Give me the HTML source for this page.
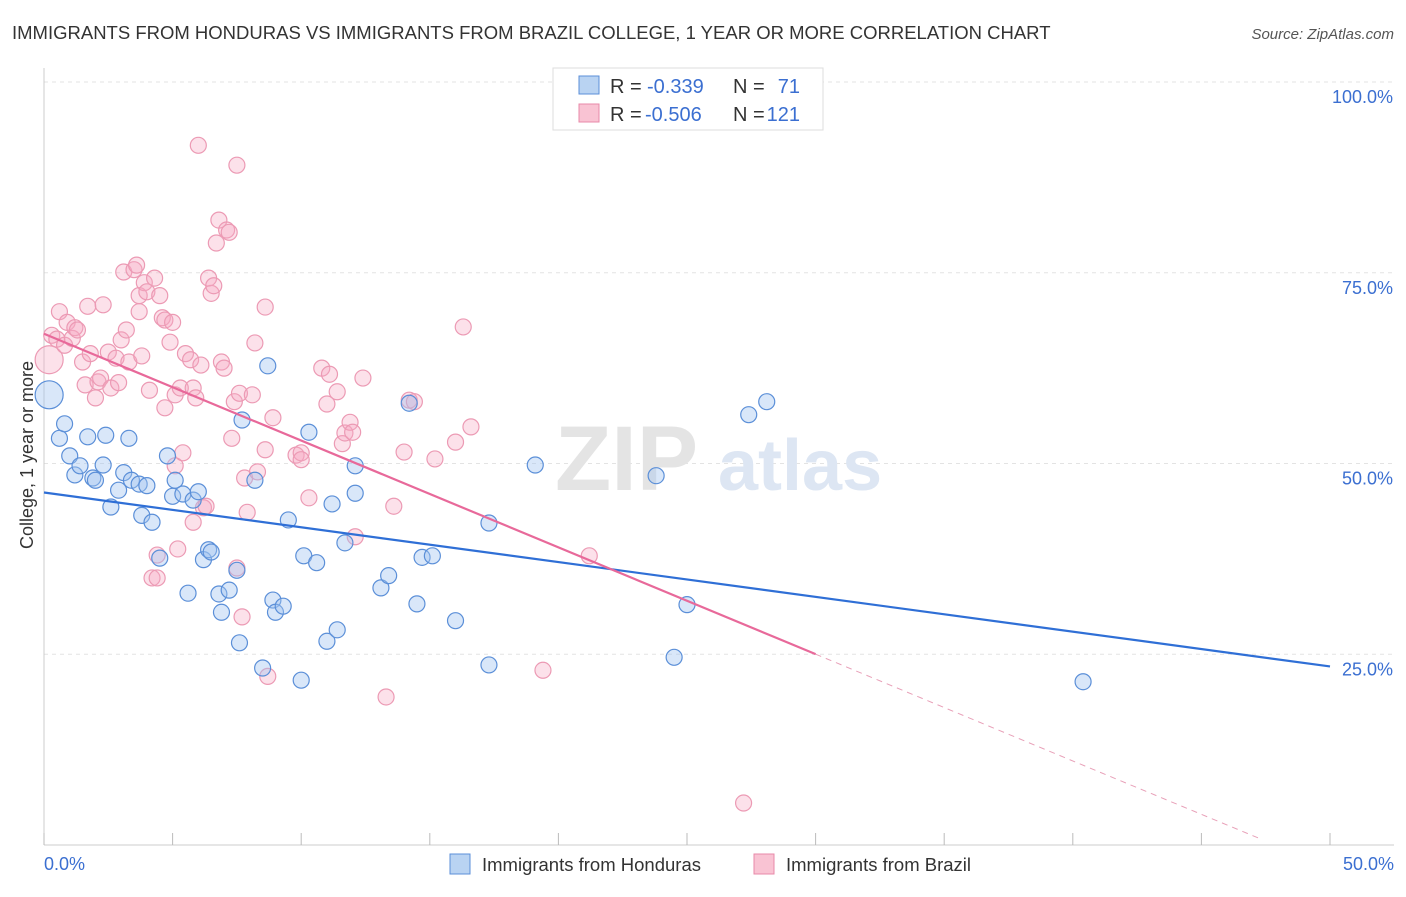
<!DOCTYPE html>
<html><head><meta charset="utf-8"><style>
body{margin:0;background:#fff;font-family:"Liberation Sans",sans-serif}
svg text{font-family:"Liberation Sans",sans-serif}
</style></head><body>
<svg id="chart" width="1406" height="892" xmlns="http://www.w3.org/2000/svg">
<text x="12" y="39" font-size="18.5" fill="#333">IMMIGRANTS FROM HONDURAS VS IMMIGRANTS FROM BRAZIL COLLEGE, 1 YEAR OR MORE CORRELATION CHART</text>
<text x="1394" y="39" font-size="15" fill="#555" text-anchor="end" font-style="italic">Source: ZipAtlas.com</text>
<g id="grid"></g>
<text x="555" y="490" font-size="92" fill="#e4e4e4" font-family="Liberation Serif" font-weight="bold">ZIP</text>
<text x="718" y="490" font-size="72" fill="#dde6f3" font-weight="bold">atlas</text>
<g id="axes"></g>
<g id="pts"></g>
<g id="trends"></g>
<text transform="translate(33,455) rotate(-90)" font-size="18" fill="#333" text-anchor="middle">College, 1 year or more</text>
<g>
<rect x="553" y="68" width="270" height="62" fill="#fff" stroke="#ddd"/>
<rect x="579" y="76" width="20" height="18" fill="#b9d3f2" stroke="#5b8fd8"/>
<rect x="579" y="104" width="20" height="18" fill="#f9c3d3" stroke="#e88aa8"/>
<text x="610" y="93" font-size="20" fill="#333">R =</text>
<text x="647" y="93" font-size="20" fill="#3b6fd1">-0.339</text>
<text x="733" y="93" font-size="20" fill="#333">N =</text>
<text x="800" y="93" font-size="20" fill="#3b6fd1" text-anchor="end">71</text>
<text x="610" y="121" font-size="20" fill="#333">R =</text>
<text x="645" y="121" font-size="20" fill="#3b6fd1">-0.506</text>
<text x="733" y="121" font-size="20" fill="#333">N =</text>
<text x="800" y="121" font-size="20" fill="#3b6fd1" text-anchor="end">121</text>
</g>
<g>
<rect x="450" y="854" width="20" height="20" fill="#b9d3f2" stroke="#5b8fd8"/>
<text x="482" y="871" font-size="18.5" fill="#333">Immigrants from Honduras</text>
<rect x="754" y="854" width="20" height="20" fill="#f9c3d3" stroke="#e88aa8"/>
<text x="786" y="871" font-size="18.5" fill="#333">Immigrants from Brazil</text>
</g>
</svg>
<script>
const blueX=[.2,.6,.8,1.0,1.2,1.4,1.7,1.9,2.0,2.3,2.4,2.6,2.9,3.1,3.3,3.4,3.7,3.8,4.0,4.2,4.5,4.8,5.0,5.1,5.4,5.6,5.8,6.0,6.2,6.4,6.5,6.8,6.9,7.2,7.5,7.6,7.7,8.2,8.5,8.7,8.9,9.0,9.3,9.5,10.0,10.1,10.3,10.6,11.0,11.2,11.4,11.7,12.1,12.1,13.1,13.4,14.2,14.5,14.7,15.1,16.0,17.3,17.3,19.1,23.8,24.5,25.0,27.4,28.1,40.4];
const blueY=[59.0,53.3,55.2,51.0,48.5,49.7,53.5,48.1,47.8,49.8,53.7,44.3,46.5,48.8,53.3,47.8,47.3,43.2,47.1,42.3,37.6,51.0,45.7,47.8,46.0,33.0,45.2,46.3,37.4,38.7,38.4,32.9,30.5,33.4,36.0,26.5,55.7,47.8,23.2,62.8,32.1,30.5,31.3,42.6,21.6,37.9,54.1,37.0,26.7,44.7,28.2,39.6,46.1,49.7,33.7,35.3,57.9,31.6,37.7,37.9,29.4,42.2,23.6,49.8,48.4,24.6,31.5,56.4,58.1,21.4];
const pinkX=[.2,.3,.5,.6,.8,.9,1.1,1.2,1.3,1.5,1.6,1.7,1.8,2.0,2.1,2.2,2.3,2.5,2.6,2.8,2.9,3.0,3.1,3.2,3.3,3.5,3.6,3.7,3.7,3.8,3.9,4.0,4.1,4.2,4.3,4.4,4.4,4.5,4.6,4.7,4.7,4.9,5.0,5.1,5.1,5.2,5.3,5.4,5.5,5.7,5.8,5.8,5.9,6.0,6.1,6.2,6.3,6.4,6.5,6.6,6.7,6.8,6.9,7.0,7.1,7.2,7.3,7.4,7.5,7.5,7.6,7.7,7.8,7.9,8.1,8.2,8.3,8.6,8.6,8.7,8.9,9.8,10.0,10.0,10.3,10.8,11.0,11.1,11.4,11.6,11.7,11.9,12.0,12.1,12.4,13.3,13.6,14.0,14.2,14.4,15.2,16.0,16.3,16.6,19.4,21.2,27.2];
const pinkY=[63.6,66.8,66.3,69.9,65.5,68.5,66.4,67.8,67.5,63.3,60.3,70.6,64.4,58.6,60.7,61.2,70.8,64.6,59.9,63.8,60.6,66.2,75.1,67.5,63.3,75.4,76.0,72.0,69.9,64.1,73.7,72.5,59.6,35.0,74.3,35.0,38.0,72.0,69.1,68.8,57.3,65.9,68.5,59.0,49.7,38.8,59.9,51.4,64.4,63.6,59.9,42.3,58.6,91.7,62.9,44.2,44.4,74.3,72.3,73.3,78.9,81.9,63.3,62.5,80.6,80.3,53.3,58.1,36.3,89.1,59.2,29.9,48.1,43.6,59.0,65.8,48.9,51.8,70.5,22.1,56.0,51.1,51.4,50.5,45.5,62.5,57.8,61.7,59.4,52.6,54.0,55.4,54.1,40.4,61.2,19.4,44.4,51.5,58.3,58.1,50.6,52.8,67.9,54.8,22.9,37.9,5.5];
const yTicks=[25,50,75,100];
const yTickLabels=["25.0%","50.0%","75.0%","100.0%"];
const blueTrend=[46.2,23.4];
const pinkTrend=[67.0,0.8];
const pinkTrendX=[0,30,47.3];

const NS="http://www.w3.org/2000/svg";
const sx=v=>44+v*25.72, sy=v=>845-v*7.63;
function mk(tag,at,parent){const e=document.createElementNS(NS,tag);for(const k in at)e.setAttribute(k,at[k]);parent.appendChild(e);return e;}
const grid=document.getElementById('grid'),axes=document.getElementById('axes'),pts=document.getElementById('pts'),tr=document.getElementById('trends');
yTicks.forEach((t,i)=>{
 const l=mk('line',{x1:44,x2:1394,y1:sy(t),y2:sy(t),stroke:'#e3e3e3','stroke-dasharray':'4,4'},grid);
 
 
 const tx=mk('text',{x:1393,y:sy(t)+21,'font-size':18,fill:'#3b6fd1','text-anchor':'end'},axes);
 tx.textContent=yTickLabels[i];
 
 
});
mk('line',{x1:44,x2:44,y1:68,y2:845,stroke:'#ccc'},axes);
mk('line',{x1:44,x2:1394,y1:845,y2:845,stroke:'#ccc'},axes);
for(let i=0;i<=10;i++){const x=sx(i*5);const t=mk('line',{x1:x,x2:x,y1:833,y2:845,stroke:'#bbb'},axes);
 
 }
const x0=mk('text',{x:44,y:870,'font-size':18,fill:'#3b6fd1'},axes);x0.textContent='0.0%';


const x1=mk('text',{x:1394,y:870,'font-size':18,fill:'#3b6fd1','text-anchor':'end'},axes);x1.textContent='50.0%';


pinkX.forEach((v,i)=>{const c=mk('circle',{cx:sx(v),cy:sy(pinkY[i]),r:i==0?14:8,fill:'rgba(246,170,195,0.35)',stroke:'#ec9ab4','stroke-width':1.2},pts);
 
 });
blueX.forEach((v,i)=>{const c=mk('circle',{cx:sx(v),cy:sy(blueY[i]),r:i==0?14:8,fill:'rgba(160,195,240,0.4)',stroke:'#5b8fd8','stroke-width':1.2},pts);
 
 });
const b=mk('line',{x1:sx(0),y1:sy(blueTrend[0]),x2:sx(50),y2:sy(blueTrend[1]),stroke:'#2f6fd6','stroke-width':2.2},tr);


const pf=x=>pinkTrend[0]+(pinkTrend[1]-pinkTrend[0])*(x-pinkTrendX[0])/(pinkTrendX[2]-pinkTrendX[0]);
const p=mk('line',{x1:sx(pinkTrendX[0]),y1:sy(pf(pinkTrendX[0])),x2:sx(pinkTrendX[1]),y2:sy(pf(pinkTrendX[1])),stroke:'#e8699a','stroke-width':2.2},tr);


const pd=mk('line',{x1:sx(pinkTrendX[1]),y1:sy(pf(pinkTrendX[1])),x2:sx(pinkTrendX[2]),y2:sy(pf(pinkTrendX[2])),stroke:'#e8a0b8','stroke-width':1,'stroke-dasharray':'6,5'},tr);


</script>
</body></html>
